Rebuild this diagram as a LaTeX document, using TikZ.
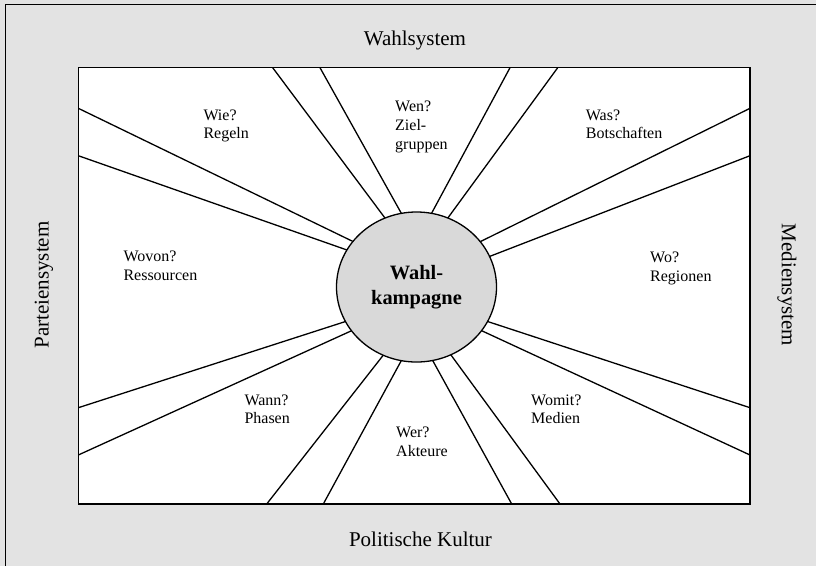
\documentclass[tikz,border=0pt]{standalone}
\usepackage{fontspec}
\setmainfont{Liberation Serif}
\usetikzlibrary{shapes.geometric}
\definecolor{bggray}{gray}{0.89}
\definecolor{ballgray}{gray}{0.85}
\begin{document}
\begin{tikzpicture}[x=1pt,y=-1pt,
  ray/.style={line width=1.3pt},
  lbl/.style={font=\fontsize{16}{18.7}\selectfont, align=left, anchor=base west, inner sep=0pt},
  outer/.style={font=\fontsize{21}{24}\selectfont, inner sep=0pt},
  hub/.style={ellipse, draw, line width=1.3pt, fill=ballgray, minimum width=160pt, minimum height=150pt, inner sep=0pt, align=center, font=\bfseries\fontsize{20.4}{24.7}\selectfont}]
\useasboundingbox (0,0) rectangle (816,566);
\fill[bggray] (0,0) rectangle (816,566);
\draw[line width=1pt] (5.3,566) -- (5.3,4.7) -- (816,4.7);
\draw[fill=white, line width=1.4pt] (78.3,67.7) rectangle (750,504);
% border end points
\coordinate (l1) at (78.3,108.3);
\coordinate (l2) at (78.3,155.7);
\coordinate (l3) at (78.3,407.7);
\coordinate (l4) at (78.3,455);
\coordinate (r1) at (750,108.3);
\coordinate (r2) at (750,155.7);
\coordinate (r3) at (750,407.7);
\coordinate (r4) at (750,455);
\coordinate (t1) at (272.7,67.7);
\coordinate (t2) at (320,67.7);
\coordinate (t3) at (510,67.7);
\coordinate (t4) at (557.7,67.7);
\coordinate (b1) at (266.7,504);
\coordinate (b2) at (323.3,504);
\coordinate (b3) at (511.7,504);
\coordinate (b4) at (560,504);
% inner end points (hidden under the hub)
\coordinate (il1) at (359,244.4);
\coordinate (il2) at (354.4,252.6);
\coordinate (il3) at (354.5,318.6);
\coordinate (il4) at (358.4,327.6);
\coordinate (ir1) at (472.7,245.4);
\coordinate (ir2) at (481.4,259.6);
\coordinate (ir3) at (478.8,318.6);
\coordinate (ir4) at (472.6,326.5);
\coordinate (it1) at (388.7,223);
\coordinate (it2) at (404.9,219.7);
\coordinate (it3) at (428.6,218.8);
\coordinate (it4) at (444.1,223.1);
\coordinate (ib1) at (388.8,348.1);
\coordinate (ib2) at (405.5,352.9);
\coordinate (ib3) at (428.5,352.9);
\coordinate (ib4) at (445.8,347.9);
\foreach \p in {l1,l2,l3,l4,r1,r2,r3,r4,t1,t2,t3,t4,b1,b2,b3,b4}
  \draw[ray] (\p) -- (i\p);
\node[hub] (hub) at (416.5,287) {Wahl-\\kampagne};
% outer labels
\node[outer, anchor=base] (wahl) at (415,45) {Wahlsystem};
\node[outer, anchor=base] (kult) at (420.5,546) {Politische Kultur};
\node[outer, rotate=90] (part) at (44,285) {Parteiensystem};
\node[outer, rotate=-90] (med) at (787,285) {Mediensystem};
% inner labels (anchor = baseline of the last line)
\node[lbl] (wie) at (203.3,138.7) {Wie?\\Regeln};
\node[lbl] (wen) at (395,149.1) {Wen?\\Ziel-\\gruppen};
\node[lbl] (was) at (585.7,138.7) {Was?\\Botschaften};
\node[lbl] (wovon) at (123.3,280.4) {Wovon?\\Ressourcen};
\node[lbl] (wo) at (650,281.4) {Wo?\\Regionen};
\node[lbl] (wann) at (244.3,423.7) {Wann?\\Phasen};
\node[lbl] (wer) at (396,456) {Wer?\\Akteure};
\node[lbl] (womit) at (531,423.7) {Womit?\\Medien};
\end{tikzpicture}
\end{document}
